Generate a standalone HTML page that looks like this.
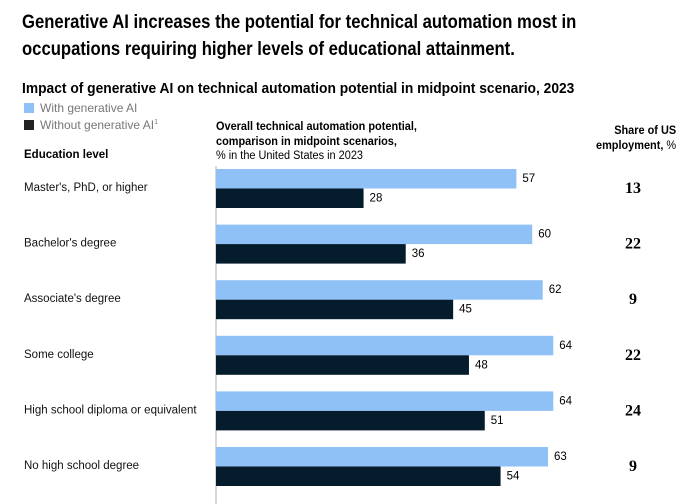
<!DOCTYPE html>
<html><head><meta charset="utf-8"><style>
body{margin:0;width:692px;height:504px;overflow:hidden;background:#fff;font-family:"Liberation Sans",sans-serif;color:#000;position:relative}
.a{position:absolute;white-space:nowrap}
</style></head><body>
<div class="a" style="left:22px;top:9px;font-size:19.5px;font-weight:bold;line-height:27px;transform:scaleX(0.855);transform-origin:left top">Generative AI increases the potential for technical automation most in<br>occupations requiring higher levels of educational attainment.</div>
<div class="a" style="left:22px;top:80px;font-size:15px;font-weight:bold;transform:scaleX(0.92);transform-origin:left top">Impact of generative AI on technical automation potential in midpoint scenario, 2023</div>
<div class="a" style="left:24px;top:101px;font-size:12px;color:#777"><span style="display:inline-block;width:10px;height:10px;background:#8fc1f7;vertical-align:-1px;margin-right:6px"></span>With generative AI</div>
<div class="a" style="left:24px;top:118px;font-size:12px;color:#777"><span style="display:inline-block;width:10px;height:10px;background:#222;vertical-align:-1px;margin-right:6px"></span>Without generative AI<sup style="font-size:7px">1</sup></div>
<div class="a" style="left:216px;top:120px;font-size:11.5px;line-height:14.5px;transform:scaleX(0.95);transform-origin:left top"><b>Overall technical automation potential,<br>comparison in midpoint scenarios,</b><br>% in the United States in 2023</div>
<div class="a" style="left:596px;top:124px;font-size:11.5px;line-height:15px;text-align:right;font-weight:bold;transform:scaleX(0.95);transform-origin:left top">&nbsp;Share of US<br>employment, <span style="font-weight:normal">%</span></div>
<div class="a" style="left:24px;top:149px;font-size:11.5px;font-weight:bold">Education level</div>
<svg id="c" width="692" height="504" style="position:absolute;left:0;top:0"></svg>
<script>
const categories=["Master's, PhD, or higher","Bachelor's degree","Associate's degree","Some college","High school diploma or equivalent","No high school degree"];
const withAI=[57,60,62,64,64,63];
const withoutAI=[28,36,45,48,51,54];
const share=[13,22,9,22,24,9];
const svg=document.getElementById('c');const NS='http://www.w3.org/2000/svg';
const x0=216,k=5.27,y0=169,step=55.6,bh=19.5;
const xs=v=>x0+v*k;
function mk(t,a){const e=document.createElementNS(NS,t);for(const n in a)e.setAttribute(n,a[n]);svg.appendChild(e);return e;}
const ax=mk('line',{x1:x0,x2:x0,y1:166,y2:504,stroke:'#ccc','stroke-width':1.5});


categories.forEach((c,i)=>{
 const y=y0+i*step;
 const t=mk('text',{x:24,y:y+22,'font-size':11.5,'font-family':'Liberation Sans, sans-serif',fill:'#111'});t.textContent=c;
 
 
 const b1=mk('rect',{x:x0,y:y,width:xs(withAI[i])-x0,height:bh,fill:'#8fc1f7'});
 
 
 const b2=mk('rect',{x:x0,y:y+bh,width:xs(withoutAI[i])-x0,height:bh,fill:'#051c2c'});
 
 
 const l1=mk('text',{x:xs(withAI[i])+6,y:y+13,'font-size':11.5,'font-family':'Liberation Sans, sans-serif'});l1.textContent=withAI[i];
 
 
 const l2=mk('text',{x:xs(withoutAI[i])+6,y:y+bh+13,'font-size':11.5,'font-family':'Liberation Sans, sans-serif'});l2.textContent=withoutAI[i];
 
 
 const s=mk('text',{x:633,y:y+24,'font-size':16,'font-weight':'bold','font-family':'Liberation Serif, serif','text-anchor':'middle'});s.textContent=share[i];
 
 
});
</script>
</body></html>
